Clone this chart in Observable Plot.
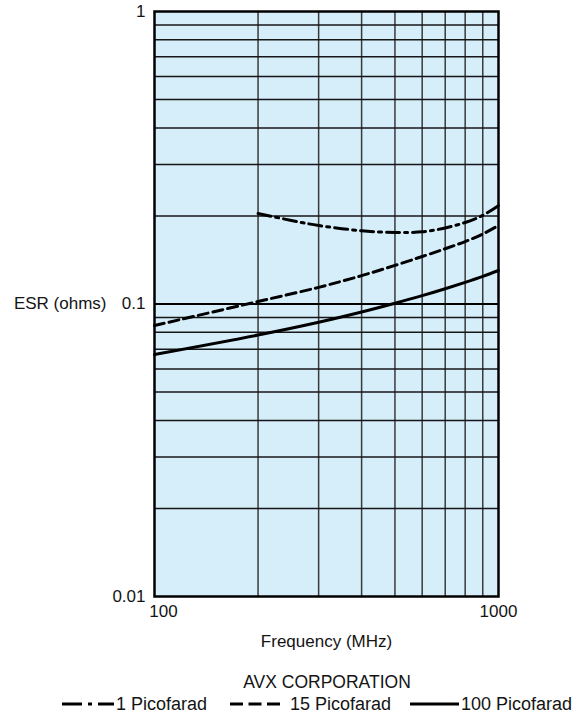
<!DOCTYPE html>
<html><head><meta charset="utf-8">
<script src="https://cdn.jsdelivr.net/npm/d3@7"></script>
<script src="https://cdn.jsdelivr.net/npm/@observablehq/plot@0.6"></script>
<style>
body{margin:0;background:#fff;}
#wrap{width:581px;height:714px;overflow:hidden;}
#wrap svg{display:block;}
</style></head><body><div id="wrap"></div>
<script>
// Data
const freq1 = [200, 250, 300, 400, 500, 600, 700, 800, 900, 1000];
const esr1pF = [0.204, 0.193, 0.1855, 0.178, 0.1756, 0.1765, 0.182, 0.19, 0.201, 0.217];
const freq15 = [100, 200, 300, 400, 500, 600, 700, 800, 900, 1000];
const esr15pF = [0.0844, 0.102, 0.114, 0.125, 0.1355, 0.1453, 0.1545, 0.1635, 0.1735, 0.1855];
const freq100 = [100, 200, 300, 400, 500, 600, 700, 800, 900, 1000];
const esr100pF = [0.0672, 0.0783, 0.0866, 0.0939, 0.1006, 0.1068, 0.1128, 0.1186, 0.1243, 0.1302];

const xTicks = [100, 1000];
const yTicks = [0.01, 0.1, 1];
const xGrid = [200, 300, 400, 500, 600, 700, 800, 900];
const yGrid = [0.02, 0.03, 0.04, 0.05, 0.06, 0.07, 0.08, 0.09, 0.2, 0.3, 0.4, 0.5, 0.6, 0.7, 0.8, 0.9];
const seriesNames = ["1 Picofarad", "15 Picofarad", "100 Picofarad"];
const xLabel = "Frequency (MHz)";
const yLabel = "ESR (ohms)";
const title = "AVX CORPORATION";

const toRows = (fs, vs) => fs.map((f, i) => ({f, v: vs[i]}));
const font = "'Liberation Sans', Arial, Helvetica, sans-serif";
const ink = "#141414";

const plot = Plot.plot({
  width: 581, height: 655,
  marginTop: 11, marginBottom: 59, marginLeft: 154, marginRight: 83,
  style: {fontFamily: font, fontSize: "17px", color: ink, background: "white", overflow: "visible"},
  x: {type: "log", domain: [100, 1000]},
  y: {type: "log", domain: [0.01, 1]},
  marks: [
    Plot.frame({fill: "#d5eefa", stroke: "none"}),
    Plot.ruleX(xGrid, {stroke: "#3a3a3a", strokeWidth: 1.5}),
    Plot.ruleY(yGrid, {stroke: "#161616", strokeWidth: 1.5}),
    Plot.ruleY([0.1], {stroke: "#000", strokeWidth: 2}),
    Plot.line(toRows(freq1, esr1pF), {x: "f", y: "v", stroke: "#000", strokeWidth: 3, strokeDasharray: "13,5,3,5", curve: "catmull-rom"}),
    Plot.line(toRows(freq15, esr15pF), {x: "f", y: "v", stroke: "#000", strokeWidth: 3, strokeDasharray: "10,5", curve: "catmull-rom"}),
    Plot.line(toRows(freq100, esr100pF), {x: "f", y: "v", stroke: "#000", strokeWidth: 3, curve: "catmull-rom"}),
    Plot.frame({stroke: "#000", strokeWidth: 2.5}),
    Plot.axisX([xTicks[0]], {tickSize: 0, tickPadding: 8, dx: 9, tickFormat: d => String(d), label: null, fill: ink}),
    Plot.axisX([xTicks[1]], {tickSize: 0, tickPadding: 8, tickFormat: d => String(d), label: null, fill: ink}),
    Plot.axisY(yTicks, {tickSize: 0, tickPadding: 9, tickFormat: d => String(d), label: null, fill: ink}),
    Plot.text([xLabel], {frameAnchor: "bottom", dy: 45, lineAnchor: "middle", fill: ink}),
    Plot.text([yLabel], {y: [0.1], frameAnchor: "left", textAnchor: "end", dx: -48, fill: ink})
  ]
});
const wrap = document.getElementById("wrap");
wrap.appendChild(plot);

// Legend block below the plot
const leg = d3.create("svg").attr("width", 581).attr("height", 59)
  .style("font-family", font).style("display", "block");
leg.append("text").attr("x", 327).attr("y", 33).attr("text-anchor", "middle")
  .attr("font-size", 17.5).attr("fill", ink).text(title);
const items = [
  {x0: 62, x1: 114, tx: 116, dash: "20,6,4,6,20"},
  {x0: 230, x1: 280, tx: 290, dash: "13,5.5"},
  {x0: 410, x1: 459, tx: 461, dash: null}
];
items.forEach((it, i) => {
  const ln = leg.append("line").attr("x1", it.x0).attr("x2", it.x1).attr("y1", 49).attr("y2", 49)
    .attr("stroke", "#000").attr("stroke-width", 3);
  if (it.dash) ln.attr("stroke-dasharray", it.dash);
  leg.append("text").attr("x", it.tx).attr("y", 55).attr("font-size", 18).attr("fill", ink).text(seriesNames[i]);
});
wrap.appendChild(leg.node());
</script>
</body></html>
